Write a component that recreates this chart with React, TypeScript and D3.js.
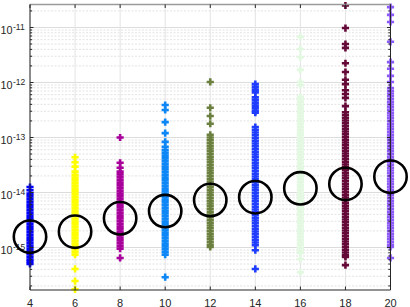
import React from "react";
import * as d3 from "d3";

// x positions (categories)
const categories = [4, 6, 8, 10, 12, 14, 16, 18, 20];
const colors = ["#0000ff", "#ffff00", "#a8009b", "#0d87f5", "#6b7f3f", "#1f3dff", "#e2f8e0", "#650a38", "#8c5af5"];

// log10 of sample values per category
const exp4 = [-13.90, -13.96, -14.02, -14.07, -14.12, -14.17, -14.22, -14.27, -14.32, -14.37, -14.42, -14.47, -14.52, -14.57, -14.62, -14.67, -14.72, -14.77, -14.82, -14.87, -14.92, -14.97, -15.02, -15.07, -15.12, -15.17, -15.22, -15.26, -15.30];
const exp6 = [-13.36, -13.45, -13.53, -13.62, -13.68, -13.73, -13.78, -13.83, -13.88, -13.93, -13.98, -14.03, -14.08, -14.13, -14.18, -14.23, -14.28, -14.33, -14.38, -14.43, -14.48, -14.53, -14.58, -14.63, -14.68, -14.73, -14.78, -14.83, -14.88, -14.93, -14.98, -15.03, -15.08, -15.13, -15.39, -15.61, -15.76];
const exp8 = [-13.00, -13.46, -13.55, -13.62, -13.67, -13.72, -13.77, -13.82, -13.87, -13.92, -13.97, -14.02, -14.07, -14.12, -14.17, -14.22, -14.27, -14.32, -14.37, -14.42, -14.47, -14.52, -14.57, -14.62, -14.67, -14.72, -14.77, -14.82, -14.87, -14.92, -14.97, -15.02, -15.19];
const exp10 = [-12.41, -12.50, -12.72, -12.92, -13.08, -13.17, -13.23, -13.28, -13.33, -13.38, -13.43, -13.48, -13.53, -13.58, -13.63, -13.68, -13.73, -13.78, -13.83, -13.88, -13.93, -13.98, -14.03, -14.08, -14.13, -14.18, -14.23, -14.28, -14.33, -14.38, -14.43, -14.48, -14.53, -14.58, -14.63, -14.68, -14.73, -14.78, -14.83, -14.88, -14.93, -14.98, -15.03, -15.08, -15.13, -15.54];
const exp12 = [-11.99, -12.46, -12.61, -12.75, -12.95, -13.00, -13.05, -13.10, -13.15, -13.20, -13.25, -13.30, -13.35, -13.40, -13.45, -13.50, -13.55, -13.60, -13.65, -13.70, -13.75, -13.80, -13.85, -13.90, -13.95, -14.00, -14.05, -14.10, -14.15, -14.20, -14.25, -14.30, -14.35, -14.40, -14.45, -14.50, -14.55, -14.60, -14.65, -14.70, -14.75, -14.80, -14.85, -14.90, -14.95, -14.99];
const exp14 = [-12.03, -12.08, -12.13, -12.18, -12.27, -12.32, -12.37, -12.42, -12.47, -12.52, -12.55, -12.81, -12.86, -12.91, -12.96, -13.01, -13.06, -13.11, -13.16, -13.21, -13.26, -13.31, -13.36, -13.41, -13.46, -13.51, -13.56, -13.61, -13.66, -13.71, -13.76, -13.81, -13.86, -13.91, -13.96, -14.01, -14.06, -14.11, -14.16, -14.21, -14.26, -14.31, -14.36, -14.41, -14.46, -14.51, -14.56, -14.61, -14.66, -14.71, -14.76, -14.81, -14.86, -14.91, -14.96, -15.05, -15.39];
const exp16 = [-11.17, -11.39, -11.54, -11.77, -11.99, -12.05, -12.26, -12.31, -12.36, -12.41, -12.46, -12.51, -12.56, -12.61, -12.66, -12.71, -12.76, -12.81, -12.86, -12.91, -12.96, -13.01, -13.06, -13.11, -13.16, -13.21, -13.26, -13.31, -13.36, -13.41, -13.46, -13.51, -13.56, -13.61, -13.66, -13.71, -13.76, -13.81, -13.86, -13.91, -13.96, -14.01, -14.06, -14.11, -14.16, -14.21, -14.26, -14.31, -14.36, -14.41, -14.46, -14.51, -14.56, -14.61, -14.66, -14.71, -14.76, -14.81, -14.86, -14.91, -14.96, -15.01, -15.06, -15.10, -15.21, -15.45];
const exp18 = [-10.60, -11.01, -11.30, -11.37, -11.65, -11.81, -11.95, -12.03, -12.14, -12.21, -12.28, -12.43, -12.54, -12.59, -12.64, -12.69, -12.74, -12.79, -12.84, -12.89, -12.94, -12.99, -13.04, -13.09, -13.14, -13.19, -13.24, -13.29, -13.34, -13.39, -13.44, -13.49, -13.54, -13.59, -13.64, -13.69, -13.74, -13.79, -13.84, -13.89, -13.94, -13.99, -14.04, -14.09, -14.14, -14.19, -14.24, -14.29, -14.34, -14.39, -14.44, -14.49, -14.54, -14.59, -14.64, -14.69, -14.74, -14.79, -14.84, -14.89, -14.94, -14.99, -15.04, -15.09, -15.14, -15.17, -15.32];
const exp20 = [-10.63, -10.77, -10.90, -11.26, -11.63, -11.75, -11.88, -11.99, -12.10, -12.15, -12.20, -12.25, -12.30, -12.35, -12.40, -12.45, -12.50, -12.55, -12.60, -12.65, -12.70, -12.75, -12.80, -12.85, -12.90, -12.95, -13.00, -13.05, -13.10, -13.15, -13.20, -13.25, -13.30, -13.35, -13.40, -13.45, -13.50, -13.55, -13.60, -13.65, -13.70, -13.75, -13.80, -13.85, -13.90, -13.95, -14.00, -14.05, -14.10, -14.15, -14.20, -14.25, -14.30, -14.35, -14.40, -14.45, -14.50, -14.55, -14.60, -14.65, -14.70, -14.75, -14.80, -14.85, -14.90, -14.95, -14.99, -15.19];

const seriesExp = [exp4, exp6, exp8, exp10, exp12, exp14, exp16, exp18, exp20];

// circle markers (typical value per category)
const means = [1.57e-15, 1.94e-15, 3.4e-15, 4.6e-15, 7.3e-15, 8.2e-15, 1.19e-14, 1.43e-14, 1.94e-14];

const xTicks = [4, 6, 8, 10, 12, 14, 16, 18, 20];
const yDecades = [-15, -14, -13, -12, -11];

const W = 410;
const H = 307;
const L = 30, R = 390.5, T = 4.5, B = 290;

export default function App() {
  const x = d3.scaleLinear().domain([4, 20]).range([L, R]);
  const y = d3.scaleLog().domain([Math.pow(10, -15.773), Math.pow(10, -10.582)]).range([B, T]);

  const minor: number[] = [];
  for (let d = -16; d <= -11; d++) {
    for (let m = 2; m <= 9; m++) {
      const v = m * Math.pow(10, d);
      const py = y(v);
      if (py >= T && py <= B) minor.push(v);
    }
  }
  const a = 3.6;
  const plus = `M${-a},0H${a}M0,${-a}V${a}`;
  const font = "'Liberation Sans', Arial, Helvetica, sans-serif";
  const axisColor = "#262626";

  return (
    <svg width={W} height={H} style={{ position: "absolute", left: 0, top: 0, display: "block", background: "#fff" }}>
      {/* minor grid */}
      {minor.map((v, i) => (
        <line key={"mg" + i} x1={L} x2={R} y1={y(v)} y2={y(v)} stroke="#e2e2e2" strokeWidth={1} strokeDasharray="2,1.5" />
      ))}
      {/* major grid */}
      {yDecades.map((d) => (
        <line key={"Mg" + d} x1={L} x2={R} y1={y(Math.pow(10, d))} y2={y(Math.pow(10, d))} stroke="#dcdcdc" strokeWidth={1} />
      ))}
      {xTicks.map((t) => (
        <line key={"xg" + t} x1={x(t)} x2={x(t)} y1={T} y2={B} stroke="#e3e3e3" strokeWidth={1} />
      ))}
      {/* data markers */}
      {seriesExp.map((arr, si) => (
        <g key={"s" + si} stroke={colors[si]} strokeWidth={2.6} fill="none">
          {arr.map((e, j) => (
            <path key={j} d={plus} transform={`translate(${x(categories[si])},${y(Math.pow(10, e))})`} />
          ))}
        </g>
      ))}
      {/* axes box */}
      <line x1={L} x2={R} y1={T} y2={T} stroke="#9a9a9a" strokeWidth={1.5} />
      <line x1={L} x2={L} y1={T} y2={B} stroke={axisColor} strokeWidth={1} />
      <line x1={R} x2={R} y1={T} y2={B} stroke={axisColor} strokeWidth={1} />
      <line x1={L} x2={R} y1={B} y2={B} stroke={axisColor} strokeWidth={1} />
      {/* x ticks */}
      {xTicks.map((t) => (
        <g key={"xt" + t}>
          <line x1={x(t)} x2={x(t)} y1={B} y2={B - 3.5} stroke={axisColor} strokeWidth={1} />
          <line x1={x(t)} x2={x(t)} y1={T} y2={T + 3.5} stroke={axisColor} strokeWidth={1} />
          <text x={x(t)} y={306.5} textAnchor="middle" fontFamily={font} fontSize={11} fill={axisColor}>{t}</text>
        </g>
      ))}
      {/* y ticks */}
      {minor.map((v, i) => (
        <g key={"mt" + i}>
          <line x1={L} x2={L + 2.2} y1={y(v)} y2={y(v)} stroke={axisColor} strokeWidth={1} />
          <line x1={R} x2={R - 2.2} y1={y(v)} y2={y(v)} stroke={axisColor} strokeWidth={1} />
        </g>
      ))}
      {yDecades.map((d) => {
        const py = y(Math.pow(10, d));
        return (
          <g key={"yt" + d} fontFamily={font} fill={axisColor}>
            <line x1={L} x2={L + 3.5} y1={py} y2={py} stroke={axisColor} strokeWidth={1} />
            <line x1={R} x2={R - 3.5} y1={py} y2={py} stroke={axisColor} strokeWidth={1} />
            <text x={0.5} y={py + 6.5} fontSize={10.8}>10</text>
            <text x={13} y={py + 2.5} fontSize={8.5}>{String(d)}</text>
          </g>
        );
      })}
      {/* mean circles */}
      {means.map((m, i) => (
        <circle key={"c" + i} cx={x(categories[i])} cy={y(m)} r={16.2} fill="none" stroke="#000" strokeWidth={2.6} />
      ))}
    </svg>
  );
}
